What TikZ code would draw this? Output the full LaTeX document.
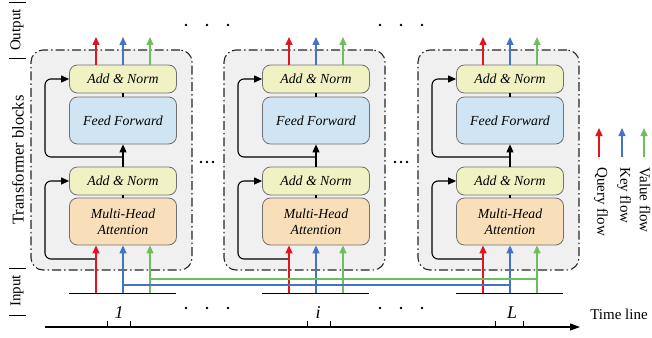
\documentclass[tikz,border=0pt]{standalone}
\usepackage{fontspec}
\setmainfont{Liberation Serif}
\usetikzlibrary{arrows.meta,calc}
\definecolor{qred}{HTML}{E3141B}
\definecolor{kblue}{HTML}{4472C4}
\definecolor{vgreen}{HTML}{6DBE5C}
\definecolor{anfill}{HTML}{F0F2C4}
\definecolor{fffill}{HTML}{CFE5F4}
\definecolor{mhfill}{HTML}{F8DFBA}
\definecolor{blkfill}{HTML}{F0F0F0}
\definecolor{boxedge}{HTML}{707070}
\begin{document}
\begin{tikzpicture}[x=1pt,y=-1pt,
 inner/.style={draw=boxedge,line width=0.8pt,rounded corners=8pt,minimum width=107pt,inner sep=1pt,font=\fontsize{13.8}{16}\selectfont\itshape,align=center},
 outerbox/.style={draw=black!85,line width=1.1pt,dash pattern=on 9pt off 3pt on 1.5pt off 3pt,rounded corners=12pt,fill=blkfill,minimum width=161pt,minimum height=220pt},
 flow/.style={line width=1.3pt,-{Triangle[length=8pt,width=7pt]}},
 blk/.style={line width=1.1pt,black},
 blkarrow/.style={blk,-{Triangle[length=8pt,width=7pt]}},
 lbl/.style={font=\fontsize{15}{17}\selectfont,inner sep=0pt},
 idx/.style={font=\fontsize{18}{20}\selectfont\itshape,inner sep=0pt}
]
\useasboundingbox (0,0) rectangle (652,337);

% left labels
\node[lbl,rotate=90] (lout) at (17,30) {Output};
\node[lbl,rotate=90,font=\fontsize{16.5}{18}\selectfont] (ltb) at (18,160) {Transformer blocks};
\node[lbl,rotate=90] (lin) at (17,291) {Input};
\draw[line width=1pt] (9,3) -- (26,3) (9,58) -- (26,58) (9,268) -- (26,268) (9,315) -- (26,315);

% blocks
\foreach \cx/\n in {123/1,316/2,510/3}{
  \node[outerbox] (b\n) at (\cx-11.5,160) {};
  \node[inner,fill=anfill,minimum height=28pt] (an\n) at (\cx,79) {Add \& Norm};
  \node[inner,fill=fffill,minimum height=47pt] (ff\n) at (\cx,120.5) {Feed Forward};
  \node[inner,fill=anfill,minimum height=28pt] (al\n) at (\cx,181) {Add \& Norm};
  \node[inner,fill=mhfill,minimum height=47pt] (mh\n) at (\cx,221.5) {Multi-Head\\Attention};
  \draw[blk] (ff\n.north) -- (an\n.south);
  \draw[blk] (mh\n.north) -- (al\n.south);
  \draw[blkarrow] (al\n.north) -- (ff\n.south);
  \coordinate (r\n) at (\cx,157);
  \draw[blkarrow,rounded corners=6pt] (r\n) -| (\cx-78,79) -- (an\n.west);
  \coordinate (q\n) at (\cx-27,259);
  \draw[blkarrow,rounded corners=6pt] (q\n) -| (\cx-78,181) -- (al\n.west);
  \coordinate (bl\n) at (\cx-54,293);
  \coordinate (br\n) at (\cx+53,293);
  \draw[line width=0.9pt] (bl\n) -- (br\n);
  \coordinate (iq\n) at (\cx-27,293);
  \coordinate (ik\n) at (\cx,293);
  \coordinate (iv\n) at (\cx+27,293);
  \draw[flow,qred] (iq\n) -- (iq\n |- mh\n.south);
  \draw[flow,kblue] (ik\n) -- (ik\n |- mh\n.south);
  \draw[flow,vgreen] (iv\n) -- (iv\n |- mh\n.south);
  \coordinate (oq\n) at (\cx-27,37);
  \coordinate (ok\n) at (\cx,37);
  \coordinate (ov\n) at (\cx+27,37);
  \draw[flow,qred] (oq\n |- an\n.north) -- (oq\n);
  \draw[flow,kblue] (ok\n |- an\n.north) -- (ok\n);
  \draw[flow,vgreen] (ov\n |- an\n.north) -- (ov\n);
}

% cross-time key / value lines
\coordinate (kj1) at (123,285);
\coordinate (kj3) at (510,285);
\coordinate (vj1) at (149,279);
\coordinate (vj3) at (537,279);
\draw[kblue,line width=1.2pt] (kj1) -- (kj3);
\draw[vgreen,line width=1.2pt] (vj1) -- (vj3);

% dots
\foreach \x in {186,207,228,380,401,422}{
  \fill (\x,25) circle (1.4pt);
  \fill (\x,308) circle (1.4pt);
}
\foreach \x in {201,207,213,395,401,407}{
  \fill (\x,162) circle (1.4pt);
}

% time line
\coordinate (t0) at (45,327);
\coordinate (t1) at (580,327);
\draw[line width=1.1pt,-{Triangle[length=10pt,width=7pt]}] (t0) -- (t1);
\foreach \x in {107,130,307,330,495,523}{
  \draw[line width=0.8pt] (\x,327) -- (\x,321);
}
\node[idx] (i1) at (119,313) {1};
\node[idx] (i2) at (318,313) {i};
\node[idx] (i3) at (512,313) {L};
\node[lbl] (tl) at (619,314) {Time line};

% legend
\coordinate (lq0) at (599,157);
\coordinate (lq1) at (599,128);
\coordinate (lk0) at (622,157);
\coordinate (lk1) at (622,128);
\coordinate (lv0) at (644,157);
\coordinate (lv1) at (644,128);
\draw[flow,qred] (lq0) -- (lq1);
\draw[flow,kblue] (lk0) -- (lk1);
\draw[flow,vgreen] (lv0) -- (lv1);
\node[lbl,rotate=-90,anchor=west] (lqt) at (601,167) {Query flow};
\node[lbl,rotate=-90,anchor=west] (lkt) at (624,167) {Key flow};
\node[lbl,rotate=-90,anchor=west] (lvt) at (645,167) {Value flow};
\end{tikzpicture}
\end{document}
